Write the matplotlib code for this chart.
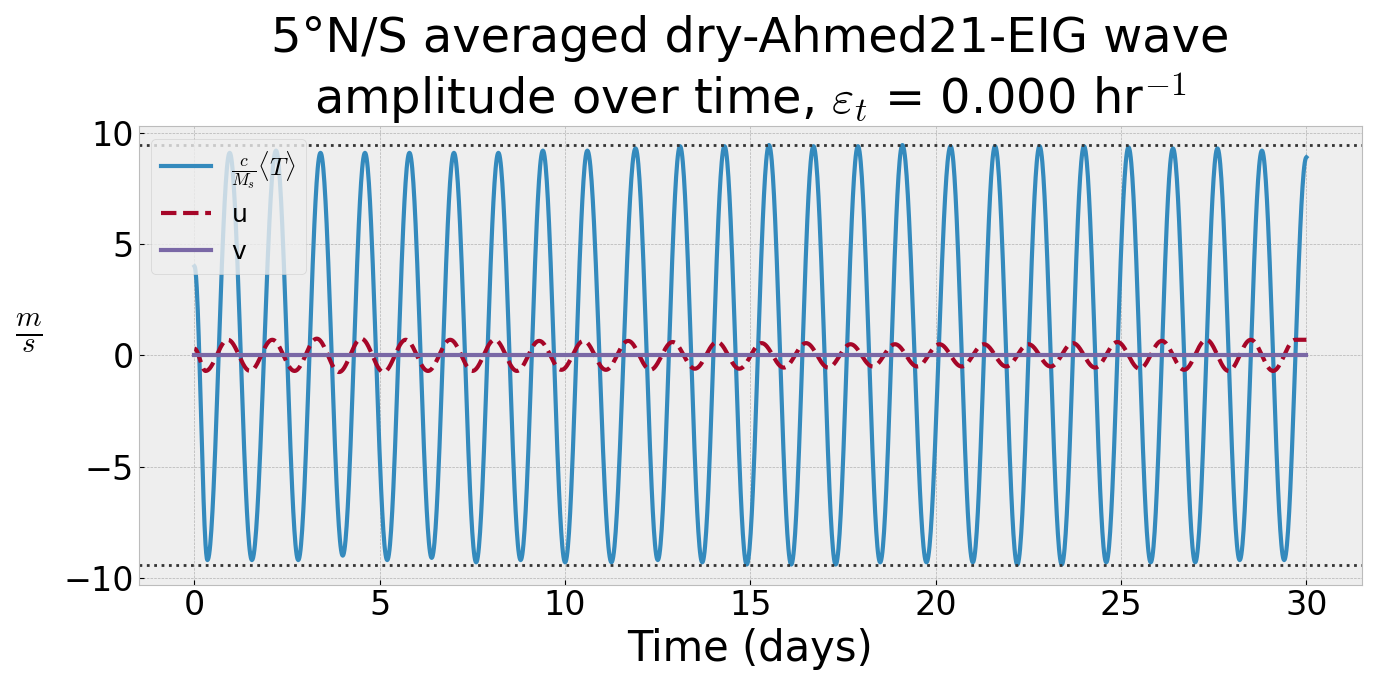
import numpy as np
import matplotlib
matplotlib.use('Agg')
from matplotlib import pyplot as plt

plt.style.use('bmh')

# extrema (time in days, value in m/s)
T_times = [0.0, 0.35, 0.95, 1.55, 2.2, 2.8, 3.4, 4.0, 4.6, 5.2, 5.8, 6.4, 7.0, 7.6, 8.2, 8.8,
           9.4, 10.0, 10.6, 11.25, 11.9, 12.5, 13.1, 13.7, 14.3, 14.9, 15.5, 16.1, 16.7, 17.3,
           17.9, 18.5, 19.1, 19.75, 20.4, 21.0, 21.6, 22.2, 22.8, 23.4, 24.0, 24.6, 25.2, 25.8,
           26.4, 27.0, 27.6, 28.2, 28.8, 29.4, 30.0]
T_vals = [4.0, -9.2, 9.1, -9.2, 9.2, -9.2, 9.1, -9.0, 9.1, -9.2, 9.1, -9.1, 9.1, -9.3, 9.1, -9.2,
          9.2, -9.3, 9.2, -9.3, 9.3, -9.2, 9.4, -9.3, 9.4, -9.4, 9.45, -9.4, 9.4, -9.4,
          9.4, -9.3, 9.45, -9.3, 9.4, -9.3, 9.4, -9.4, 9.4, -9.4, 9.4, -9.3, 9.35, -9.3,
          9.3, -9.3, 9.3, -9.2, 9.2, -9.2, 8.9]
u_times = [0.0, 0.3, 0.9, 1.5, 2.1, 2.7, 3.3, 3.9, 4.5, 5.1, 5.7, 6.3, 6.9, 7.5, 8.1, 8.7,
           9.3, 9.9, 10.5, 11.1, 11.7, 12.3, 12.9, 13.5, 14.1, 14.7, 15.3, 15.9, 16.5, 17.1,
           17.7, 18.3, 18.9, 19.5, 20.1, 20.7, 21.3, 21.9, 22.5, 23.1, 23.7, 24.3, 24.9, 25.5,
           26.1, 26.7, 27.3, 27.9, 28.5, 29.1, 29.7, 30.0]
u_vals = [0.3, -0.7, 0.7, -0.7, 0.7, -0.7, 0.75, -0.75, 0.75, -0.75, 0.7, -0.7, 0.7, -0.7, 0.7, -0.7,
          0.65, -0.65, 0.65, -0.65, 0.65, -0.65, 0.6, -0.6, 0.6, -0.6, 0.55, -0.55, 0.55, -0.55,
          0.5, -0.5, 0.5, -0.5, 0.5, -0.5, 0.5, -0.5, 0.5, -0.5, 0.55, -0.55, 0.6, -0.6,
          0.65, -0.65, 0.7, -0.7, 0.7, -0.7, 0.7, 0.7]
v_times = [0.0, 30.0]
v_vals = [0.0, 0.0]


def smooth(times, vals, n=40):
    # half-cosine joins between successive extrema
    xs, ys = [], []
    for i in range(len(times) - 1):
        s = np.linspace(0, 1, n, endpoint=False)
        w = (1 - np.cos(np.pi * s)) / 2
        xs.append(times[i] + (times[i + 1] - times[i]) * s)
        ys.append(vals[i] + (vals[i + 1] - vals[i]) * w)
    xs.append([times[-1]])
    ys.append([vals[-1]])
    return np.concatenate(xs), np.concatenate(ys)


fig, ax = plt.subplots(figsize=(13.77, 6.85), dpi=100)
tx, ty = smooth(T_times, T_vals)
ux, uy = smooth(u_times, u_vals)
ax.plot(tx, ty, color='#348ABD', lw=3, label=r'$\frac{c}{M_s}\langle T \rangle$')
ax.plot(ux, uy, color='#A60628', lw=3, ls='--', label='u')
ax.plot(v_times, v_vals, color='#7A68A6', lw=3, label='v')
ax.axhline(max(T_vals), color='#333333', ls=':', lw=2)
ax.axhline(min(T_vals), color='#333333', ls=':', lw=2)

ax.set_xlim(-1.5, 31.5)
ax.set_ylim(-10.3, 10.3)
ax.set_yticks([-10, -5, 0, 5, 10])
ax.tick_params(labelsize=24)
ax.set_xlabel('Time (days)', fontsize=30)
ax.set_ylabel(r'$\frac{m}{s}$', fontsize=30, rotation=0, labelpad=25)
ax.set_title('5°N/S averaged dry-Ahmed21-EIG wave\n' + r'amplitude over time, $\varepsilon_t$ = 0.000 hr$^{-1}$',
             fontsize=34.5)
ax.legend(loc='upper left', fontsize=18)
plt.tight_layout()
plt.savefig('out.png')
